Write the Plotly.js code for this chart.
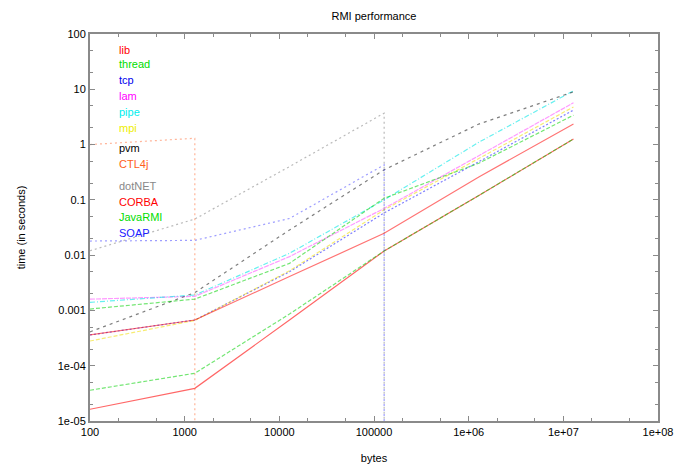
<!DOCTYPE html>
<html>
<head>
<meta charset="utf-8">
<script src="https://cdn.plot.ly/plotly-3.0.1.min.js"></script>
<style>html,body{margin:0;padding:0;background:#fff;}#chart{width:678px;height:468px;}</style>
</head>
<body>
<div id="chart"></div>
<script>
// message sizes in bytes
const bytes = [100, 1280, 12800, 128000, 1280000, 12800000];
// CTL and dotNET/SOAP stop (value falls off the bottom of the log axis)
const bytesCTL = [100, 1280, 1280];
const bytesNet = [100, 1280, 12800, 128000, 128000];

const lib     = [1.63e-5, 3.9e-5, 6.7e-4, 0.0119, 0.12, 1.26];
const thread  = [3.6e-5, 7.3e-5, 8.6e-4, 0.0119, 0.12, 1.26];
const tcp     = [3.6e-4, 6.7e-4, 0.005, 0.058, 0.49, 4.2];
const lam     = [0.0016, 0.0018, 0.0094, 0.070, 0.63, 5.7];
const pipe    = [0.0014, 0.0019, 0.0108, 0.10, 1.1, 9.4];
const mpi     = [2.8e-4, 6.6e-4, 0.0052, 0.066, 0.56, 4.8];
const pvm     = [4.1e-4, 0.0021, 0.0285, 0.35, 2.35, 9.0];
const CTL     = [1.0, 1.3, 1e-12];
const dotNET  = [0.012, 0.045, 0.40, 3.7, 1e-12];
const CORBA   = [3.6e-4, 6.7e-4, 0.0041, 0.0248, 0.26, 2.35];
const JavaRMI = [0.00106, 0.0016, 0.0071, 0.107, 0.46, 3.4];
const SOAP    = [0.018, 0.0185, 0.046, 0.43, 1e-12];

const names  = ['lib','thread','tcp','lam','pipe','mpi','pvm','CTL4j','dotNET','CORBA','JavaRMI','SOAP'];
const labelY = [50, 64, 80, 96, 112, 128, 148, 164, 186, 202, 217, 233];

const series = [
  {name:'lib',     x:bytes,    y:lib,     color:'rgba(255,0,0,0.6)',     dash:'solid', text:'#ff0000'},
  {name:'thread',  x:bytes,    y:thread,  color:'rgba(0,210,0,0.55)',    dash:'4px,2px', text:'#00dd00'},
  {name:'tcp',     x:bytes,    y:tcp,     color:'rgba(0,0,255,0.5)',     dash:'2px,2px', text:'#0000ee'},
  {name:'lam',     x:bytes,    y:lam,     color:'rgba(255,0,255,0.4)',   dash:'5px,1px', text:'#ff00ff'},
  {name:'pipe',    x:bytes,    y:pipe,    color:'rgba(0,230,230,0.6)',   dash:'5px,2px,1px,2px', text:'#00eeee'},
  {name:'mpi',     x:bytes,    y:mpi,     color:'rgba(240,220,0,0.55)',  dash:'4px,2px', text:'#eeee00'},
  {name:'pvm',     x:bytes,    y:pvm,     color:'rgba(0,0,0,0.5)',       dash:'3px,4px', text:'#000000'},
  {name:'CTL4j',   x:bytesCTL, y:CTL,     color:'rgba(255,90,30,0.45)',  dash:'2px,3px', text:'#ff6020'},
  {name:'dotNET',  x:bytesNet, y:dotNET,  color:'rgba(130,130,130,0.55)',dash:'2px,3px', text:'#888888'},
  {name:'CORBA',   x:bytes,    y:CORBA,   color:'rgba(255,0,0,0.55)',    dash:'solid', text:'#ff0000'},
  {name:'JavaRMI', x:bytes,    y:JavaRMI, color:'rgba(0,210,0,0.55)',    dash:'4px,2px', text:'#00dd00'},
  {name:'SOAP',    x:bytesNet, y:SOAP,    color:'rgba(40,40,255,0.45)',  dash:'2px,3px', text:'#2020ff'}
];

const traces = series.map(s => ({
  type:'scatter', mode:'lines', name:s.name, x:s.x, y:s.y,
  line:{color:s.color, width:1.2, dash:s.dash}, showlegend:false
}));

const annotations = series.map((s, i) => ({
  xref:'paper', yref:'paper', x:(117-90)/568, y:(421-labelY[i])/387,
  xanchor:'left', yanchor:'middle', showarrow:false, text:names[i],
  font:{family:'Liberation Sans, Arial, sans-serif', size:11, color:s.text}
}));

const xTickVals = [100, 1000, 10000, 100000, 1e6, 1e7, 1e8];
const xTickText = ['100','1000','10000','100000','1e+06','1e+07','1e+08'];
const yTickVals = [1e-5, 1e-4, 0.001, 0.01, 0.1, 1, 10, 100];
const yTickText = ['1e-05','1e-04','0.001','0.01','0.1','1','10','100'];

const axisCommon = {
  type:'log', showline:true, linecolor:'#8a8a8a', linewidth:2, mirror:'allticks',
  ticks:'inside', ticklen:5, tickcolor:'#8a8a8a', tickwidth:1,
  showgrid:false, zeroline:false,
  minor:{ticks:'inside', ticklen:3, tickcolor:'#8a8a8a', showgrid:false},
  tickfont:{family:'Liberation Sans, Arial, sans-serif', size:11, color:'#000'}
};

const layout = {
  width:678, height:468,
  margin:{l:90, r:20, t:34, b:47},
  paper_bgcolor:'#fff', plot_bgcolor:'#fff',
  title:{text:'RMI performance', x:(374)/678, xanchor:'center', y:1-16/468, yanchor:'middle',
         font:{family:'Liberation Sans, Arial, sans-serif', size:11, color:'#000'}},
  xaxis:Object.assign({}, axisCommon, {
    range:[2, 8], tickvals:xTickVals, ticktext:xTickText,
    title:{text:'bytes', standoff:17, font:{family:'Liberation Sans, Arial, sans-serif', size:11, color:'#000'}}
  }),
  yaxis:Object.assign({}, axisCommon, {
    range:[-5, 2], tickvals:yTickVals, ticktext:yTickText,
    title:{text:'time (in seconds)', standoff:30, font:{family:'Liberation Sans, Arial, sans-serif', size:11, color:'#000'}}
  }),
  annotations:annotations
};

Plotly.newPlot('chart', traces, layout, {staticPlot:true, displayModeBar:false});
</script>
</body>
</html>
